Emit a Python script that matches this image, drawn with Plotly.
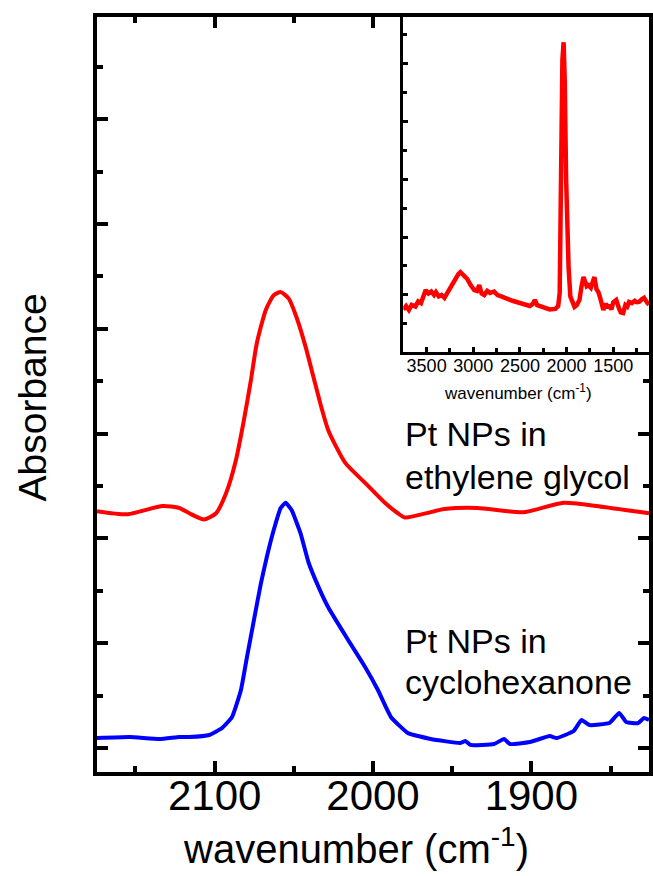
import plotly.graph_objects as go

# ---------------- data ----------------
eg_wn = [2174.3, 2154.9, 2132.9, 2122.3, 2116.0, 2106.6, 2099.1, 2092.8, 2086.5, 2081.5,
         2077.1, 2073.4, 2067.7, 2062.7, 2058.3, 2053.3, 2048.3, 2042.6, 2037.6, 2032.6,
         2028.2, 2017.5, 2005.0, 1992.5, 1984.3, 1979.9, 1954.8, 1934.1, 1904.7, 1879.6,
         1854.5, 1825.7]
eg_abs = [0.226, 0.223, 0.231, 0.229, 0.224, 0.218, 0.224, 0.243, 0.275, 0.313,
          0.351, 0.386, 0.418, 0.432, 0.435, 0.429, 0.411, 0.383, 0.354, 0.325,
          0.303, 0.272, 0.253, 0.234, 0.224, 0.220, 0.228, 0.229, 0.225, 0.234,
          0.230, 0.224]

ch_wn = [2174.3, 2153.6, 2134.8, 2122.3, 2116.0, 2103.4, 2095.3, 2089.0, 2083.4, 2079.6,
         2075.2, 2070.8, 2067.1, 2062.7, 2058.3, 2055.2, 2051.4, 2045.8, 2040.7, 2034.5,
         2028.2, 2015.7, 2005.0, 1996.9, 1988.7, 1978.0, 1963.6, 1944.8, 1941.7, 1938.5,
         1923.5, 1917.3, 1913.5, 1900.9, 1888.4, 1884.0, 1873.3, 1868.3, 1863.3, 1850.8,
         1844.5, 1840.1, 1832.6, 1828.8, 1825.7]
ch_abs = [0.0095, 0.0105, 0.0086, 0.0105, 0.0105, 0.0124, 0.0191, 0.0296, 0.0553, 0.0868,
          0.122, 0.157, 0.182, 0.208, 0.229, 0.234, 0.227, 0.205, 0.177, 0.154,
          0.134, 0.103, 0.0773, 0.0553, 0.0296, 0.0143, 0.0086, 0.0048, 0.0067, 0.0029,
          0.0038, 0.0086, 0.0038, 0.0057, 0.0114, 0.0095, 0.0162, 0.0267, 0.0219, 0.0238,
          0.0334, 0.0248, 0.0238, 0.0286, 0.0267]

inset_wn = [3750, 3720, 3690, 3660, 3620, 3590, 3560, 3530, 3510, 3480, 3450, 3420, 3400,
            3370, 3340, 3309, 3280, 3245, 3215, 3190, 3160, 3138, 3110, 3085, 3064, 3030,
            2989, 2960, 2936, 2910, 2883, 2850, 2820, 2777, 2740, 2700, 2670, 2620, 2580,
            2532, 2480, 2430, 2394, 2360, 2340, 2315, 2287, 2240, 2181, 2120, 2090, 2074,
            2060, 2045, 2032, 2020, 2005, 1990, 1979, 1960, 1947, 1915, 1890, 1862, 1840,
            1819, 1800, 1785, 1766, 1740, 1720, 1702, 1680, 1660, 1640, 1620, 1606, 1580,
            1560, 1543, 1520, 1500, 1468, 1440, 1420, 1394, 1370, 1350, 1330, 1300, 1270,
            1250, 1223, 1195, 1170, 1140, 1117]
inset_abs = [0.150, 0.162, 0.148, 0.166, 0.160, 0.178, 0.172, 0.200, 0.217, 0.205, 0.212, 0.200, 0.210,
             0.195, 0.200, 0.190, 0.207, 0.224, 0.245, 0.262, 0.272, 0.279, 0.268, 0.262, 0.255, 0.235,
             0.217, 0.214, 0.234, 0.205, 0.200, 0.214, 0.207, 0.212, 0.200, 0.195, 0.190, 0.185, 0.180,
             0.176, 0.172, 0.165, 0.162, 0.170, 0.183, 0.165, 0.162, 0.155, 0.150, 0.152, 0.162, 0.207,
             0.700, 1.010, 1.072, 0.941, 0.597, 0.355, 0.297, 0.195, 0.183, 0.159, 0.165, 0.183, 0.230,
             0.262, 0.245, 0.230, 0.234, 0.225, 0.245, 0.262, 0.220, 0.210, 0.190, 0.160, 0.148, 0.170,
             0.155, 0.166, 0.150, 0.175, 0.183, 0.155, 0.140, 0.138, 0.165, 0.160, 0.176, 0.172, 0.180,
             0.175, 0.176, 0.185, 0.190, 0.175, 0.166]

main_tick_labels = ["2100", "2000", "1900"]
inset_tick_labels = ["3500", "3000", "2500", "2000", "1500"]

# ---------------- layout helpers ----------------
W, H = 653, 876
L, R, T, B = 97, 0, 17, 104
PW, PH = W - L - R, H - T - B


def px(x):
    return (x - L) / PW


def py(y):
    return (H - B - y) / PH


FONT = "Liberation Sans, Arial, sans-serif"

fig = go.Figure()
fig.add_trace(go.Scatter(x=eg_wn, y=eg_abs, mode="lines",
                         line=dict(color="#ff0000", width=4, shape="spline", smoothing=0.6),
                         xaxis="x", yaxis="y", showlegend=False, hoverinfo="skip"))
fig.add_trace(go.Scatter(x=ch_wn, y=ch_abs, mode="lines",
                         line=dict(color="#0000ff", width=4, shape="spline", smoothing=0.4),
                         xaxis="x", yaxis="y", showlegend=False, hoverinfo="skip"))
fig.add_trace(go.Scatter(x=inset_wn, y=inset_abs, mode="lines",
                         line=dict(color="#ff0000", width=4.5),
                         xaxis="x2", yaxis="y2", showlegend=False, hoverinfo="skip"))

axis_common = dict(showgrid=False, zeroline=False, showline=True, linecolor="black",
                   tickcolor="black", ticks="inside")

fig.update_layout(
    width=W, height=H,
    margin=dict(l=L, r=R, t=T, b=B, pad=0),
    paper_bgcolor="white", plot_bgcolor="white",
    font=dict(family=FONT, color="black"),
    xaxis=dict(**axis_common, domain=[0, 1], anchor="y", range=[2174.3, 1825.7],
               tickmode="array", tickvals=[2100, 2000, 1900], ticktext=main_tick_labels,
               ticklen=11, tickwidth=3.5, linewidth=4, mirror="ticks",
               minor=dict(dtick=50, tick0=2000, ticks="inside", ticklen=6, tickwidth=3.5, tickcolor="black"),
               tickfont=dict(size=42, family=FONT, color="black"), ticklabelstandoff=-16),
    yaxis=dict(**axis_common, domain=[0, 1], anchor="x", range=[-0.0229, 0.6975],
               tick0=0, dtick=0.1, showticklabels=False,
               ticklen=11, tickwidth=3.5, linewidth=4, mirror="ticks",
               minor=dict(dtick=0.05, tick0=0, ticks="inside", ticklen=6, tickwidth=3.5, tickcolor="black")),
    xaxis2=dict(**axis_common, domain=[px(405.5), 1], anchor="y2", range=[3750, 1117],
                tickmode="array", tickvals=[3500, 3000, 2500, 2000, 1500], ticktext=inset_tick_labels,
                ticklen=5, tickwidth=2.5, linewidth=3,
                minor=dict(dtick=250, tick0=1500, ticks="inside", ticklen=4, tickwidth=2.5, tickcolor="black"),
                tickfont=dict(size=18, family=FONT, color="black"), ticklabelstandoff=-4),
    yaxis2=dict(**axis_common, domain=[py(351.5), 1], anchor="x2", range=[0.005, 1.159],
                tick0=0, dtick=0.2, showticklabels=False,
                ticklen=5, tickwidth=2.5, linewidth=3,
                minor=dict(dtick=0.1, tick0=0, ticks="inside", ticklen=4, tickwidth=2.5, tickcolor="black")),
)

ann = [
    dict(text="Absorbance", x=px(32), y=py(397), textangle=-90, size=39),
    dict(text="wavenumber (cm<sup>-1</sup>)", x=px(358), y=py(846), size=40),
    dict(text="wavenumber (cm<sup>-1</sup>)", x=px(521), y=py(392), size=17),
]
for a in ann:
    fig.add_annotation(text=a["text"], x=a["x"], y=a["y"], xref="paper", yref="paper",
                       xanchor="center", yanchor="middle", showarrow=False,
                       textangle=a.get("textangle", 0),
                       font=dict(size=a["size"], family=FONT, color="black"))

labels = [
    ("Pt NPs in", 434), ("ethylene glycol", 477),
    ("Pt NPs in", 641), ("cyclohexanone", 682),
]
for txt, yy in labels:
    fig.add_annotation(text=txt, x=px(405), y=py(yy), xref="paper", yref="paper",
                       xanchor="left", yanchor="middle", showarrow=False, align="left",
                       font=dict(size=34, family=FONT, color="black"))

fig.write_html("out.html")
